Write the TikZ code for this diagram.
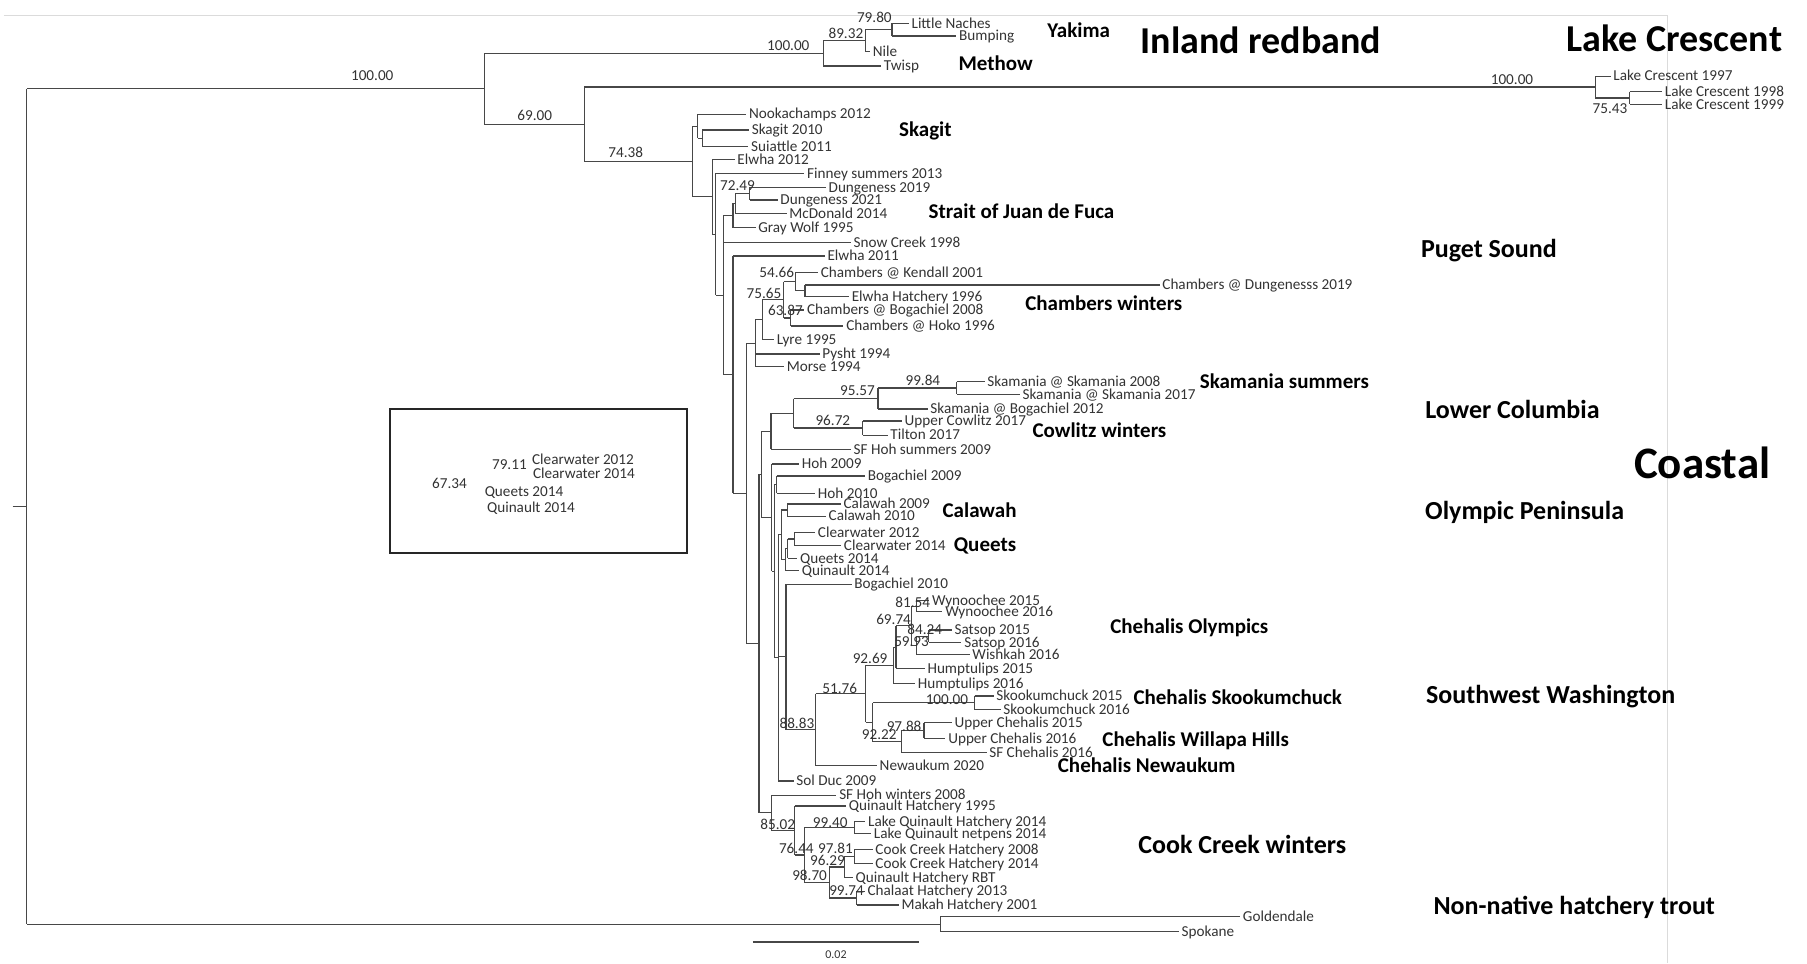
\documentclass[tikz,border=0pt]{standalone}
\usepackage{fontspec}
\setmainfont{Carlito}
\usetikzlibrary{calc}
\newcommand\leaffont{\fontsize{7.6}{9}\selectfont}
\tikzset{br/.style={draw=black!72,line width=.55pt},
  leaf/.style={anchor=west,inner sep=1.2pt,xshift=-1.2pt,text=black!80,font=\leaffont,text height=5.3pt,text depth=.5pt},
  bs/.style={inner sep=0pt,text=black!80,font=\leaffont,text height=4.8pt,text depth=0pt},
  grp/.style={inner sep=0pt,font=\bfseries\fontsize{10.5}{12}\selectfont,text height=7pt,text depth=0pt},
  reg/.style={inner sep=0pt,font=\bfseries\fontsize{13}{15}\selectfont,text height=8.6pt,text depth=0pt},
  big/.style={inner sep=0pt,font=\bfseries\fontsize{19}{22}\selectfont,text height=12.5pt,text depth=0pt}}
% clade: name, x, first child, last child
\newcommand\clade[4]{\coordinate (m#1) at ($(#3)!.5!(#4)$);\coordinate (#1) at (m#1 -| #2,0);
  \draw[br] (#3 -| #1) -- (#4 -| #1);\draw[br] (#1 |- #3) -- (#3);\draw[br] (#1 |- #4) -- (#4);}
\newcommand\twig[2]{\draw[br] (#1 |- #2) -- (#2);}
\begin{document}
\begin{tikzpicture}[x=.5762pt,y=-.5762pt]
\useasboundingbox (0,0) rectangle (1568,836);
\draw[black!14,line width=.5pt] (3.4,13.6) -- (1447,13.6) -- (1447,836);
% leaves
\foreach \n/\x/\y/\t in {lnach/790.7/20.3/Little Naches, bump/832/31.2/Bumping, nile/757/44.8/Nile, twisp/766.7/57.3/Twisp,
  lc97/1399.7/66/Lake Crescent 1997, lc98/1444.4/79.6/Lake Crescent 1998, lc99/1444.4/90.5/Lake Crescent 1999,
  nook/649.6/99/Nookachamps 2012, skag/652/112.8/Skagit 2010, suia/651.5/127.3/Suiattle 2011, elw12/639.6/138.3/Elwha 2012,
  finn/700/150.4/Finney summers 2013, dun19/718.7/162.5/Dungeness 2019, dun21/676.9/173.5/Dungeness 2021,
  mcd/684.7/185.1/McDonald 2014, gwolf/657.7/197.5/Gray Wolf 1995, snow/740.4/210.6/Snow Creek 1998, elw11/717.7/222.1/Elwha 2011,
  kend/711.9/236.6/Chambers @ Kendall 2001, cdun/1008.3/247.3/Chambers @ Dungenesss 2019, elwh/738.8/257.4/Elwha Hatchery 1996,
  cbog/700/269/Chambers @ Bogachiel 2008, hoko/734/282.9/Chambers @ Hoko 1996, lyre/673.7/294.5/Lyre 1995,
  pysht/713.3/307.2/Pysht 1994, morse/682.4/318.2/Morse 1994,
  sk08/856.5/331.2/Skamania @ Skamania 2008, sk17/887/342.2/Skamania @ Skamania 2017, skbog/807/354.9/Skamania @ Bogachiel 2012,
  ucow/784.7/365.3/Upper Cowlitz 2017, tilt/772.3/377.5/Tilton 2017, sfhs/740.4/389.9/SF Hoh summers 2009,
  hoh09/695.4/402.6/Hoh 2009, bog09/752.8/413/Bogachiel 2009, hoh10/709.4/428/Hoh 2010,
  cal09/731.7/437.3/Calawah 2009, cal10/718.7/447.8/Calawah 2010, clw12/709.4/462.2/Clearwater 2012, clw14/732/473.2/Clearwater 2014,
  quee/693.9/484.5/Queets 2014, quin/695.4/495.2/Quinault 2014, bog10/741/506.8/Bogachiel 2010,
  wyn15/808.5/521.2/Wynoochee 2015, wyn16/819.9/530.7/Wynoochee 2016, sat15/828/546.7/Satsop 2015, sat16/836.4/557.4/Satsop 2016,
  wish/843.5/568.3/Wishkah 2016, hum15/804.5/579.9/Humptulips 2015, hum16/796.2/592.9/Humptulips 2016,
  sko15/864.3/603.9/Skookumchuck 2015, sko16/870.4/616/Skookumchuck 2016, uch15/828/627/Upper Chehalis 2015,
  uch16/822.5/640.7/Upper Chehalis 2016, sfch/858.1/653.2/SF Chehalis 2016, newk/763/664.6/Newaukum 2020, sold/690.7/677.7/Sol Duc 2009,
  sfhw/727.9/689.9/SF Hoh winters 2008, qh95/736.3/699.4/Quinault Hatchery 1995, lqh/753/713/Lake Quinault Hatchery 2014,
  lqn/758/723.1/Lake Quinault netpens 2014, cc08/759.3/737/Cook Creek Hatchery 2008, cc14/759.3/749.1/Cook Creek Hatchery 2014,
  qrbt/742.2/761.6/Quinault Hatchery RBT, chal/752.5/773.2/Chalaat Hatchery 2013, makah/782/785.3/Makah Hatchery 2001,
  gold/1078.2/795.4/Goldendale, spok/1025/808.4/Spokane}
  {\node[leaf] (\n) at (\x,\y) {\t};}
% inland redband and Lake Crescent
\clade{D}{774}{lnach.west}{bump.west}\clade{C}{751}{D}{nile.west}\clade{B}{714.3}{C}{twisp.west}
\clade{LC2}{1414.2}{lc98.west}{lc99.west}\clade{LCn}{1384.4}{lc97.west}{LC2}
% Skagit, Strait of Juan de Fuca
\clade{Sk2}{609.2}{skag.west}{suia.west}\clade{Sk}{605.6}{nook.west}{Sk2}
\clade{Dg1}{650.5}{dun19.west}{dun21.west}\clade{Dg2}{638.2}{Dg1}{mcd.west}\clade{Dg3}{636}{Dg2}{gwolf.west}
% Chambers winters
\clade{Ch0}{698.5}{cdun.west}{elwh.west}\clade{Ch1}{690}{kend.west}{Ch0}\clade{Ch2}{686.2}{cbog.west}{hoko.west}
\clade{Ch3}{680}{Ch1}{Ch2}\clade{Ch4}{661.4}{Ch3}{lyre.west}\clade{Ch5}{655.2}{Ch4}{morse.west}\twig{Ch5}{pysht.west}
% Lower Columbia
\clade{Sk99}{830.3}{sk08.west}{sk17.west}\clade{Sk95}{761.9}{Sk99}{skbog.west}\clade{Cw}{748.8}{ucow.west}{tilt.west}
\clade{U}{688.7}{Sk95}{Cw}\clade{LCc}{669}{U}{sfhs.west}
% Olympic Peninsula
\clade{Z1}{674}{bog09.west}{hoh10.west}\clade{Cal}{683}{cal09.west}{cal10.west}\clade{Clw}{689.3}{clw12.west}{clw14.west}
\clade{Q1}{683.5}{Clw}{quee.west}\clade{Qn}{681.5}{Q1}{quin.west}\clade{Z2}{678}{Cal}{Qn}
% Chehalis
\clade{N81}{795}{wyn15.west}{wyn16.west}\clade{N84}{806}{sat15.west}{sat16.west}\clade{N59}{795.5}{N84}{wish.west}
\clade{N69}{791}{N81}{N59}\clade{M}{777.5}{N69}{hum15.west}\clade{N92}{775}{M}{hum16.west}
\clade{N100}{845.7}{sko15.west}{sko16.west}\clade{N97}{801.8}{uch15.west}{uch16.west}\clade{N92b}{782.6}{N97}{sfch.west}
\clade{Nsk}{757.4}{N100}{N92b}\clade{N51}{751.2}{N92}{Nsk}\clade{N88}{707.8}{N51}{newk.west}\clade{W}{682}{bog10.west}{N88}
\clade{Z3}{675.5}{Z2}{sold.west}\twig{Z3}{W}\clade{T2}{672}{Z1}{Z3}\clade{T}{669.7}{hoh09.west}{T2}\clade{S}{661}{LCc}{T}
% Cook Creek winters
\clade{N99}{741.1}{lqh.west}{lqn.west}\clade{N97b}{741.1}{cc08.west}{cc14.west}\clade{N96}{732.9}{N97b}{qrbt.west}
\clade{N99b}{743.4}{chal.west}{makah.west}\clade{N98}{719.6}{N96}{N99b}\clade{N76}{698}{N99}{N98}
\clade{CC2}{689.7}{qh95.west}{N76}\clade{CC}{669.7}{sfhw.west}{CC2}
% trunk
\clade{R}{658.6}{S}{CC}\clade{Q}{647.4}{Ch5}{R}\clade{N5}{636}{elw11.west}{Q}
\clade{N4}{627.5}{Dg3}{N5}\twig{N4}{snow.west}\clade{N3}{621}{finn.west}{N4}\clade{N2}{618}{elw12.west}{N3}
\clade{N1}{601}{Sk}{N2}\clade{E}{507}{LCn}{N1}\clade{A}{420.2}{B}{E}
\clade{G}{815.9}{gold.west}{spok.west}\clade{root}{23.3}{A}{G}
\coordinate (stub) at (root -| 11,0);\draw[br] (stub) -- (root);
% bootstrap values
\foreach \v/\x/\y [count=\i] in {100.00/323/66, 69.00/464/100.7, 100.00/684/40, 89.32/734/28.9, 79.80/758.7/15.6,
  100.00/1312/69.4, 75.43/1397/94, 74.38/543/132.5, 72.49/640/161, 54.66/674/237, 75.65/663/254.5, 63.87/681.5/269.5,
  99.84/800.8/330.3, 95.57/744/339, 96.72/722.7/365, 81.54/792/523, 69.74/775.4/537.4, 84.24/802.4/546.6, 59.93/791/556.8,
  92.69/755/571.6, 51.76/728.7/597.3, 100.00/821.7/607.4, 97.88/784.5/630.5, 92.22/763/637.8, 88.83/691.5/628.2,
  85.02/674.8/715.3, 99.40/720.4/713.6, 76.44/691/736, 97.81/725/736, 96.29/718/747, 98.70/702.5/760, 99.74/734.6/773}
  {\node[bs] (bs\i) at (\x,\y) {\v};}
% inset box
\draw[black!85,line width=.9pt] (338.4,355.2) rectangle (595.9,479.6);
\node[bs] (in1) at (390,420) {67.34};\node[bs] (in2) at (442,403.5) {79.11};
\node[leaf] (in3) at (461.4,399.2) {Clearwater 2012};\node[leaf] (in4) at (462.2,410.7) {Clearwater 2014};
\node[leaf] (in5) at (420.3,426.7) {Queets 2014};\node[leaf] (in6) at (422.3,440.2) {Quinault 2014};
% scale bar
\coordinate (sb1) at (653.2,817.4);\coordinate (sb2) at (797.6,817.4);\draw[br] (sb1) -- (sb2);
\node[inner sep=0pt,text=black!80,font=\fontsize{6}{7}\selectfont] (sbl) at (725.4,828.7) {0.02};
% group labels
\node[grp] (yak) at (936,26.6) {Yakima};\node[grp] (met) at (864,55) {Methow};
\node[big] (inl) at (1094,36) {Inland redband};\node[big] (lcr) at (1453,34) {Lake Crescent};
\node[grp] (skg) at (803,112.2) {Skagit};\node[grp] (sjf) at (886.4,183.7) {Strait of Juan de Fuca};
\node[reg] (pgs) at (1292,216.4) {Puget Sound};\node[grp] (chw) at (957.8,263) {Chambers winters};
\node[grp] (sks) at (1114.5,330.7) {Skamania summers};\node[reg] (lcol) at (1312.4,355.4) {Lower Columbia};
\node[grp] (cww) at (954,373.5) {Cowlitz winters};
\node[inner sep=0pt,font=\bfseries\fontsize{22.5}{26}\selectfont,text height=14.5pt,text depth=0pt] (coa) at (1477,402.7) {Coastal};
\node[reg] (olp) at (1323,443) {Olympic Peninsula};\node[grp] (clw) at (850,443) {Calawah};\node[grp] (qts) at (854.7,472.8) {Queets};
\node[grp] (cho) at (1032,543.5) {Chehalis Olympics};\node[grp] (chs) at (1074,605.2) {Chehalis Skookumchuck};
\node[reg] (sww) at (1345.5,603) {Southwest Washington};\node[grp] (chwh) at (1037.5,641.3) {Chehalis Willapa Hills};
\node[grp] (chn) at (995,664.2) {Chehalis Newaukum};\node[reg] (ccw) at (1078,733) {Cook Creek winters};
\node[reg] (nnh) at (1366,786) {Non-native hatchery trout};
\end{tikzpicture}
\end{document}
